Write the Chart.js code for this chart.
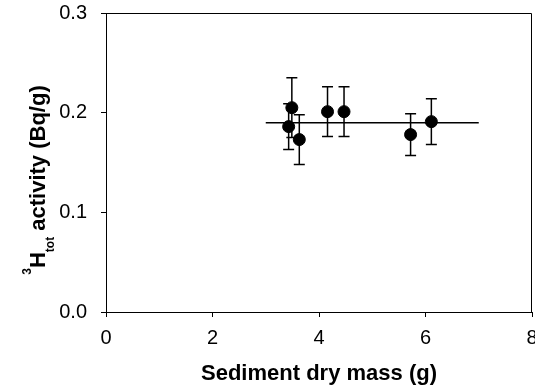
<!DOCTYPE html>
<html>
<head>
<meta charset="utf-8">
<script src="https://cdn.jsdelivr.net/npm/chart.js@4.4.1/dist/chart.umd.min.js"></script>
<style>
    body { margin: 0; background: #fff; }
    #chartContainer { width: 535px; height: 390px; }
</style>
</head>
<body>
<div id="chartContainer"><canvas id="chart" width="535" height="390"></canvas></div>
<script>
// Messwerte: Sedimentmasse (g), 3H-Aktivität (Bq/g) und Fehler (+/-)
let massValues = [3.43, 3.49, 3.63, 4.16, 4.47, 5.72, 6.11];
let activityValues = [0.186, 0.205, 0.173, 0.201, 0.201, 0.178, 0.191];
let errorValues = [0.023, 0.030, 0.025, 0.025, 0.025, 0.021, 0.023];

// Mittelwert-Linie
let meanLineX = [3, 7];
let meanLineY = [0.19, 0.19];

let xTicks = [0, 2, 4, 6, 8];
let yTicks = [0.0, 0.1, 0.2, 0.3];

const fontName = "'Liberation Sans', Arial, sans-serif";

// Fehlerbalken zeichnen (vor den Punkten)
const errorBarPlugin = {
    id: 'errorBars',
    beforeDatasetsDraw(chart) {
        const ctx = chart.ctx;
        const xs = chart.scales.x;
        const ys = chart.scales.y;
        ctx.save();
        ctx.lineWidth = 1.5;
        ctx.strokeStyle = '#000';
        for (let i = 0; i < massValues.length; i++) {
            let px = xs.getPixelForValue(massValues[i]);
            let top = ys.getPixelForValue(activityValues[i] + errorValues[i]);
            let bottom = ys.getPixelForValue(activityValues[i] - errorValues[i]);
            ctx.beginPath();
            ctx.moveTo(px, top);
            ctx.lineTo(px, bottom);
            ctx.moveTo(px - 5.5, top);
            ctx.lineTo(px + 5.5, top);
            ctx.moveTo(px - 5.5, bottom);
            ctx.lineTo(px + 5.5, bottom);
            ctx.stroke();
        }
        ctx.restore();
    }
};

// Rahmen oben/rechts und Achsentitel
const framePlugin = {
    id: 'frame',
    afterDraw(chart) {
        const ctx = chart.ctx;
        const a = chart.chartArea;
        ctx.save();
        ctx.strokeStyle = '#000';
        ctx.lineWidth = 1;
        ctx.beginPath();
        ctx.moveTo(a.left, a.top + 0.5);
        ctx.lineTo(a.right - 0.5, a.top + 0.5);
        ctx.lineTo(a.right - 0.5, a.bottom);
        ctx.stroke();

        // x-Achsentitel
        ctx.fillStyle = '#000';
        ctx.font = 'bold 22px ' + fontName;
        ctx.textAlign = 'center';
        ctx.textBaseline = 'alphabetic';
        ctx.fillText('Sediment dry mass (g)', (a.left + a.right) / 2, 380);

        // y-Achsentitel mit Hoch- und Tiefstellung
        const parts = [
            { t: '3', f: 'bold 12px ', dy: -14 },
            { t: 'H', f: 'bold 22px ', dy: 0 },
            { t: 'tot', f: 'bold 12px ', dy: 9 },
            { t: ' activity (Bq/g)', f: 'bold 22px ', dy: 0 }
        ];
        let total = 0;
        parts.forEach(function (p) {
            ctx.font = p.f + fontName;
            p.w = ctx.measureText(p.t).width;
            total += p.w;
        });
        ctx.translate(45, 180);
        ctx.rotate(-Math.PI / 2);
        ctx.textAlign = 'left';
        let x = -total / 2;
        parts.forEach(function (p) {
            ctx.font = p.f + fontName;
            ctx.fillText(p.t, x, p.dy);
            x += p.w;
        });
        ctx.restore();
    }
};

const points = massValues.map(function (m, i) { return { x: m, y: activityValues[i] }; });
const meanLine = meanLineX.map(function (m, i) { return { x: m, y: meanLineY[i] }; });

const config = {
    type: 'scatter',
    data: {
        datasets: [{
            type: 'line',
            data: meanLine,
            borderColor: '#000',
            borderWidth: 1.5,
            pointRadius: 0,
            fill: false
        }, {
            data: points,
            backgroundColor: '#000',
            borderColor: '#000',
            pointRadius: 6,
            pointHoverRadius: 6
        }]
    },
    options: {
        responsive: false,
        animation: false,
        events: [],
        layout: { padding: { top: 13, right: 3, left: 0, bottom: 0 }, autoPadding: false },
        plugins: { legend: { display: false }, tooltip: { enabled: false } },
        scales: {
            x: {
                type: 'linear',
                min: 0,
                max: 8,
                afterBuildTicks: function (scale) { scale.ticks = xTicks.map(function (v) { return { value: v }; }); },
                afterFit: function (scale) {
                    scale.height = 78;
                    scale.paddingLeft = 0;
                    scale.paddingRight = 0;
                },
                grid: { display: true, drawOnChartArea: false, drawTicks: true, tickLength: 5, color: '#000' },
                border: { display: true, color: '#000', width: 1 },
                ticks: {
                    color: '#000',
                    padding: 9,
                    maxRotation: 0,
                    font: { family: fontName, size: 20 },
                    callback: function (v) { return v.toString(); }
                }
            },
            y: {
                type: 'linear',
                min: 0,
                max: 0.3,
                afterBuildTicks: function (scale) { scale.ticks = yTicks.map(function (v) { return { value: v }; }); },
                afterFit: function (scale) {
                    scale.width = 106;
                    scale.paddingTop = 0;
                    scale.paddingBottom = 0;
                },
                grid: { display: true, drawOnChartArea: false, drawTicks: true, tickLength: 5, color: '#000' },
                border: { display: true, color: '#000', width: 1 },
                ticks: {
                    color: '#000',
                    padding: 14,
                    font: { family: fontName, size: 20 },
                    callback: function (v) { return v.toFixed(1); }
                }
            }
        }
    },
    plugins: [errorBarPlugin, framePlugin]
};

let chart = new Chart(document.getElementById('chart'), config);
</script>
</body>
</html>
